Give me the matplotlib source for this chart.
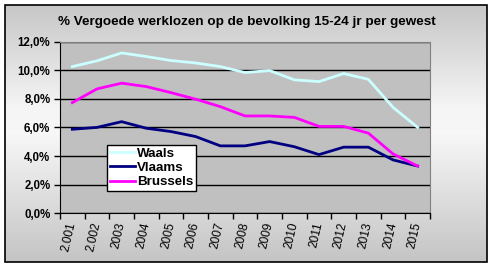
import numpy as np
import matplotlib.pyplot as plt
from matplotlib.patches import Rectangle
from matplotlib.lines import Line2D

years = ["2.001", "2.002", "2003", "2004", "2005", "2006", "2007", "2008",
         "2009", "2010", "2011", "2012", "2013", "2014", "2015"]
waals = [10.25, 10.65, 11.2, 10.95, 10.67, 10.5, 10.25, 9.83, 9.97, 9.32,
         9.2, 9.76, 9.36, 7.4, 6.0]
vlaams = [5.87, 6.0, 6.4, 5.94, 5.71, 5.36, 4.71, 4.71, 5.01, 4.65,
          4.1, 4.62, 4.62, 3.73, 3.3]
brussels = [7.73, 8.69, 9.09, 8.85, 8.43, 7.97, 7.45, 6.8, 6.8, 6.7,
            6.07, 6.07, 5.6, 4.15, 3.3]
series = [("Waals", waals, "#ccffff"),
          ("Vlaams", vlaams, "#000080"),
          ("Brussels", brussels, "#ff00ff")]
title = "% Vergoede werklozen op de bevolking 15-24 jr per gewest"

plt.rcParams['font.family'] = ['Liberation Sans', 'DejaVu Sans']

W, H = 493, 267
fig = plt.figure(figsize=(W / 100, H / 100), dpi=100)
fig.patch.set_facecolor("white")

# chart area background: vertical gray-white-gray gradient inside a black frame
x0, y0, x1, y1 = 5, 5, 487, 262
bg = fig.add_axes([x0 / W, 1 - y1 / H, (x1 - x0) / W, (y1 - y0) / H])
t = np.linspace(0, 1, 256)
stops = np.interp(t, [0, 0.4, 0.5, 1], [0.78, 0.96, 0.97, 0.77])
grad = np.stack([stops] * 3, axis=-1)[:, None, :].repeat(2, axis=1)
bg.imshow(grad, aspect="auto", extent=[0, 1, 0, 1])
bg.set_axis_off()
fig.patches.append(Rectangle((x0 / W, 1 - y1 / H), (x1 - x0) / W, (y1 - y0) / H,
                             transform=fig.transFigure, fill=False,
                             edgecolor="black", linewidth=1.2, zorder=5))

fig.text(247 / W, 1 - 22 / H, title, ha="center", va="center",
         fontsize=9.7, fontweight="bold")

# plot area
pl, pr, pt, pb = 60, 430, 41.5, 213.3
ax = fig.add_axes([pl / W, 1 - pb / H, (pr - pl) / W, (pb - pt) / H])
ax.set_facecolor("#c0c0c0")
x = np.arange(len(years))
for name, vals, col in series:
    ax.plot(x, vals, color=col, linewidth=2, zorder=3)

ax.set_xlim(-0.5, len(years) - 0.5)
ax.set_ylim(0, 12)
ax.set_yticks(np.arange(0, 13, 2))
ax.set_yticklabels([f"{v:.1f}%".replace(".", ",") for v in np.arange(0, 13, 2)],
                   fontsize=8.3, fontweight="bold")
ax.yaxis.grid(True, color="black", linewidth=1)
ax.set_axisbelow(True)
ax.set_xticks(np.arange(-0.5, len(years), 1))
ax.set_xticklabels([])
ax.tick_params(axis="both", direction="out", length=4, width=1, color="black",
               pad=3)
for i, lab in enumerate(years):
    ax.annotate(lab, xy=(i, 0), xycoords=("data", "axes fraction"),
                xytext=(0, -9), textcoords="offset pixels",
                rotation=77, rotation_mode="anchor", ha="right", va="center",
                fontsize=8.6, annotation_clip=False)
for side in ["top", "right"]:
    ax.spines[side].set_color("#808080")
for side in ["left", "bottom"]:
    ax.spines[side].set_color("black")

handles = [Line2D([], [], color=c, linewidth=2) for _, _, c in series]
leg = ax.legend(handles, [n for n, _, _ in series], loc="upper left",
                bbox_to_anchor=((107 - pl) / (pr - pl), 1 - (144.7 - pt) / (pb - pt)),
                frameon=True, fancybox=False, framealpha=1, edgecolor="black",
                borderpad=0.2, labelspacing=0.15, handlelength=1.9,
                handletextpad=0.15, borderaxespad=0,
                prop={"size": 9.6, "weight": "bold"})
leg.get_frame().set_linewidth(1)

fig.savefig("out.png", dpi=100)
